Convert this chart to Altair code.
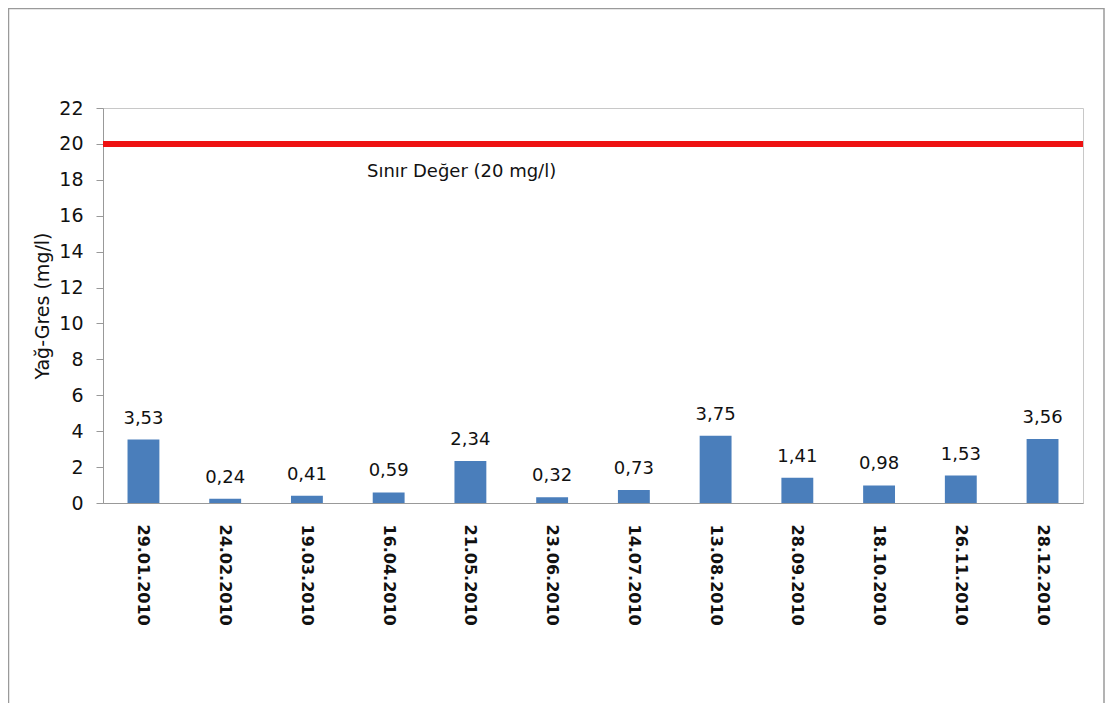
import altair as alt
import pandas as pd

dates = ["29.01.2010", "24.02.2010", "19.03.2010", "16.04.2010", "21.05.2010", "23.06.2010",
         "14.07.2010", "13.08.2010", "28.09.2010", "18.10.2010", "26.11.2010", "28.12.2010"]
values = [3.53, 0.24, 0.41, 0.59, 2.34, 0.32, 0.73, 3.75, 1.41, 0.98, 1.53, 3.56]
limit_value = 20
limit_label = "Sınır Değer (20 mg/l)"
y_title = "Yağ-Gres (mg/l)"
y_ticks = [0, 2, 4, 6, 8, 10, 12, 14, 16, 18, 20, 22]

df = pd.DataFrame({
    "date": dates,
    "value": values,
    "label": [f"{v:.2f}".replace(".", ",") for v in values],
})

y_scale = alt.Scale(domain=[0, 22], nice=False)
y_axis = alt.Axis(values=y_ticks, grid=False, labelFont="DejaVu Sans",
                  labelFontSize=19, labelColor="#111111", tickSize=7,
                  tickColor="#999999", domainColor="#999999", labelPadding=13,
                  labelOverlap=False, labelFlush=False,
                  titleFont="DejaVu Sans", titleFontSize=19, titleFontWeight="normal",
                  titleColor="#111111", titlePadding=6)


def y_enc(field):
    return alt.Y(f"{field}:Q", title=y_title, scale=y_scale, axis=y_axis)


x_enc = alt.X("date:N", sort=dates, title=None,
              scale=alt.Scale(paddingInner=0.61, paddingOuter=0.3),
              axis=alt.Axis(labelAngle=90, labelFont="DejaVu Sans", labelFontSize=16,
                            labelFontWeight="bold", labelColor="#111111", labelPadding=21,
                            ticks=False, domainColor="#999999", labelAlign="left",
                            labelBaseline="middle", labelLimit=300))

base = alt.Chart(df)

bars = base.mark_bar(color="#4a7ebb").encode(x=x_enc, y=y_enc("value"))

labels = base.mark_text(font="DejaVu Sans", fontSize=18, color="#111111", baseline="bottom",
                        dy=-12).encode(x=x_enc, y=y_enc("value"), text="label:N")

limit_df = pd.DataFrame({"limit": [limit_value], "text": [limit_label], "ty": [18.45]})
rule = alt.Chart(limit_df).mark_rule(color="#ee1111", strokeWidth=6).encode(
    y=y_enc("limit"))
rule_text = alt.Chart(limit_df).mark_text(font="DejaVu Sans", fontSize=18, color="#111111",
                                          align="left", baseline="middle").encode(
    x=alt.value(264), y=y_enc("ty"), text="text:N")

frame = alt.Chart(limit_df).mark_rect(fill=None, stroke="#9a9a9a", strokeWidth=1.5).encode(
    x=alt.value(-94.5), x2=alt.value(1001), y=alt.value(-99.5), y2=alt.value(620))

chart = alt.layer(frame, bars, labels, rule, rule_text).properties(
    width=980, height=395,
    padding={"left": 95, "top": 100, "right": 22, "bottom": 200},
    autosize=alt.AutoSizeParams(type="none"),
    background="white",
).configure_view(stroke="#c8c8c8")

chart.save("out.html", embed_options={"renderer": "svg", "actions": False})
